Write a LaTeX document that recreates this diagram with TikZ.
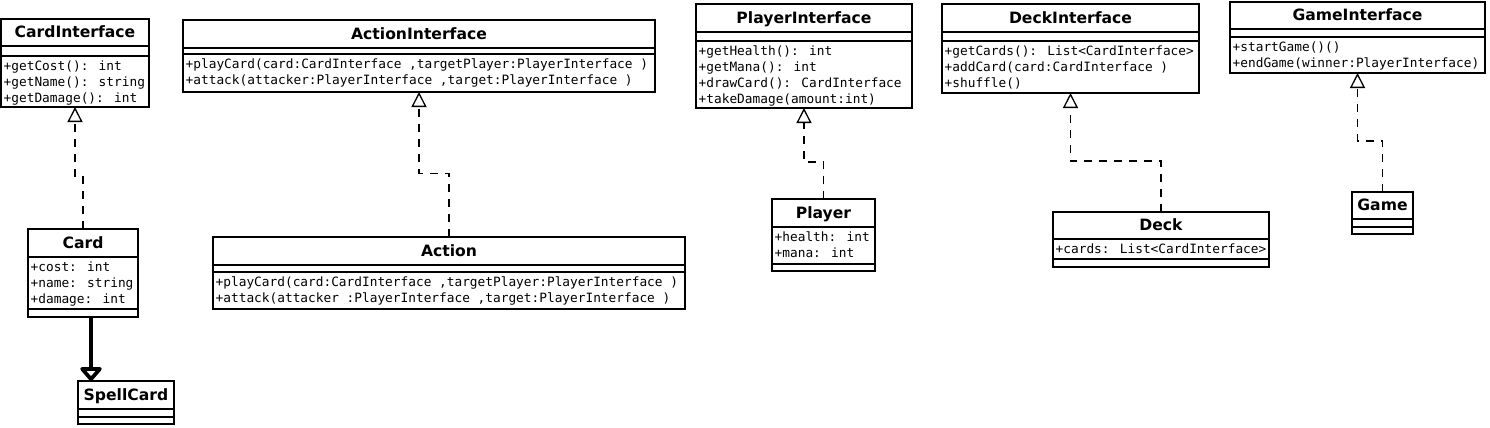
\documentclass[tikz,border=0pt]{standalone}
\usepackage{fontspec}
\newfontfamily\umltitle{DejaVu Sans}
\newfontfamily\umlmono{DejaVu Sans Mono}
\usetikzlibrary{arrows.meta}
\tikzset{
 classbox/.style={draw, line width=1.6pt, rectangle, inner sep=0pt, outer sep=0pt, anchor=north west},
 sepline/.style={line width=1.6pt},
 classtitle/.style={font=\umltitle\bfseries\fontsize{15.6}{18}\selectfont, inner sep=0pt, text height=10.5pt, text depth=0pt},
 members/.style={font=\umlmono\fontsize{12.8}{16}\selectfont, align=left, inner sep=0pt, anchor=north west},
 realize/.style={line width=1.8pt, dash pattern=on 8pt off 7pt, -{Triangle[length=15pt, width=15pt, fill=white, line width=1.3pt]}},
 inherit/.style={line width=4.5pt, -{Triangle[round, length=15pt, width=25pt, fill=white, line width=4pt]}}
}
% name, left, top, right, bottom, header line, second line, title
\newcommand{\umlclass}[8]{%
  \node[classbox, minimum width={(#4-#2)*1pt}, minimum height={(#5-#3)*1pt}] (#1) at (#2,#3) {};
  \draw[sepline] (#2,#6) -- (#4,#6);
  \draw[sepline] (#2,#7) -- (#4,#7);
  \node[classtitle] (#1t) at ({(#2+#4)/2},{(#3+#6)/2}) {#8};
}
\begin{document}
\begin{tikzpicture}[x=1pt, y=-1pt]
\useasboundingbox (0,0) rectangle (1490,428);
% interfaces
\umlclass{cardI}{1}{19}{149}{107}{46}{56}{CardInterface}
\node[members] (cardIm) at (3.5,58.8) {\strut+getCost(): int\\\strut+getName(): string\\\strut+getDamage(): int};
\umlclass{actionI}{183}{20}{655}{92}{48}{54}{ActionInterface}
\node[members] (actionIm) at (185.5,56.8) {\strut+playCard(card:CardInterface ,targetPlayer:PlayerInterface )\\\strut+attack(attacker:PlayerInterface ,target:PlayerInterface )};
\umlclass{playerI}{696}{4}{912}{108}{32}{41}{PlayerInterface}
\node[members] (playerIm) at (698.5,43.8) {\strut+getHealth(): int\\\strut+getMana(): int\\\strut+drawCard(): CardInterface\\\strut+takeDamage(amount:int)};
\umlclass{deckI}{942}{4}{1199}{93}{32}{41}{DeckInterface}
\node[members] (deckIm) at (944.5,43.8) {\strut+getCards(): List<CardInterface>\\\strut+addCard(card:CardInterface )\\\strut+shuffle()};
\umlclass{gameI}{1230}{2}{1485}{73}{29}{37}{GameInterface}
\node[members] (gameIm) at (1232.5,39.8) {\strut+startGame()()\\\strut+endGame(winner:PlayerInterface)};
% classes
\umlclass{card}{28}{229}{138}{317}{257}{309}{Card}
\node[members] (cardm) at (30.5,259.8) {\strut+cost: int\\\strut+name: string\\\strut+damage: int};
\umlclass{spell}{78}{381}{174}{424}{409}{417}{SpellCard}
\umlclass{action}{213}{237}{685}{309}{265}{272}{Action}
\node[members] (actionm) at (215.5,274.8) {\strut+playCard(card:CardInterface ,targetPlayer:PlayerInterface )\\\strut+attack(attacker :PlayerInterface ,target:PlayerInterface )};
\umlclass{player}{772}{199}{875}{271}{227}{264}{Player}
\node[members] (playerm) at (774.5,229.8) {\strut+health: int\\\strut+mana: int};
\umlclass{deck}{1053}{212}{1269}{267}{239}{259}{Deck}
\node[members] (deckm) at (1055.5,241.8) {\strut+cards: List<CardInterface>};
\umlclass{game}{1352}{192}{1413}{234}{219}{227}{Game}
% bend levels
\coordinate (mcard) at (0,176);
\coordinate (maction) at (0,173.5);
\coordinate (mplayer) at (0,162);
\coordinate (mdeck) at (0,161);
\coordinate (mgame) at (0,141);
% realizations
\draw[realize] (card.north) -- (card.north |- mcard) -| (cardI.south);
\draw[realize] (action.north) -- (action.north |- maction) -| (actionI.south);
\draw[realize] (player.north) -- (player.north |- mplayer) -| (playerI.south);
\draw[realize] (deck.north) -- (deck.north |- mdeck) -| (deckI.south);
\draw[realize] (game.north) -- (game.north |- mgame) -| (gameI.south);
% generalization
\coordinate (gstart) at ([xshift=8pt]card.south);
\draw[inherit] (gstart) -- (gstart |- spell.north);
\end{tikzpicture}
\end{document}
